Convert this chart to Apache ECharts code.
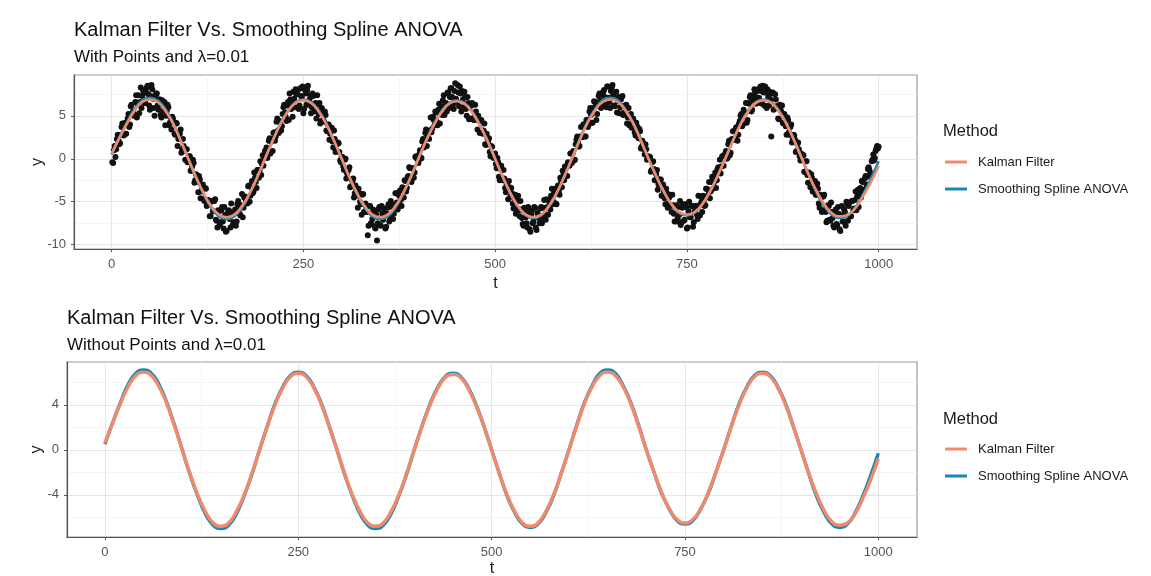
<!DOCTYPE html>
<html>
<head>
<meta charset="utf-8">
<script src="https://cdn.jsdelivr.net/npm/echarts@6/dist/echarts.min.js"></script>
<style>html,body{margin:0;background:#fff}#chart{width:1151px;height:576px}</style>
</head>
<body>
<div id="chart"></div>
<script>
// fitted curves, read every 10 steps of t (t = 0, 10, ..., 1000)
var curveStep = 10;
var kalmanY = [
  0.6, 2.4, 4.1, 5.6, 6.6, 6.9, 6.6, 5.6, 4.1, 2.1,
  0.0, -2.1, -4.0, -5.5, -6.5, -6.8, -6.5, -5.5, -4.0, -2.1,
  0.0, 2.1, 4.0, 5.5, 6.5, 6.8, 6.5, 5.5, 4.0, 2.1,
  0.0, -2.1, -4.0, -5.5, -6.5, -6.8, -6.5, -5.5, -4.0, -2.1,
  0.0, 2.1, 3.9, 5.4, 6.4, 6.7, 6.4, 5.4, 3.9, 2.1,
  0.0, -2.1, -4.0, -5.5, -6.5, -6.8, -6.5, -5.5, -4.0, -2.1,
  0.0, 2.1, 4.1, 5.6, 6.6, 6.9, 6.6, 5.6, 4.1, 2.1,
  0.0, -2.0, -3.8, -5.3, -6.2, -6.5, -6.2, -5.3, -3.8, -2.0,
  0.0, 2.1, 4.0, 5.5, 6.5, 6.8, 6.5, 5.5, 4.0, 2.1,
  0.0, -2.1, -3.9, -5.4, -6.4, -6.7, -6.5, -5.7, -4.3, -2.7,
  -0.8
];
var splineY = [
  0.5, 2.4, 4.2, 5.8, 6.8, 7.1, 6.8, 5.8, 4.2, 2.2,
  0.0, -2.2, -4.1, -5.7, -6.7, -7.0, -6.7, -5.7, -4.1, -2.2,
  0.0, 2.1, 4.1, 5.6, 6.6, 6.9, 6.6, 5.6, 4.1, 2.1,
  0.0, -2.2, -4.1, -5.7, -6.7, -7.0, -6.7, -5.7, -4.1, -2.2,
  0.0, 2.1, 4.0, 5.5, 6.5, 6.8, 6.5, 5.5, 4.0, 2.1,
  0.0, -2.1, -4.1, -5.6, -6.6, -6.9, -6.6, -5.6, -4.1, -2.1,
  0.0, 2.2, 4.2, 5.7, 6.8, 7.1, 6.8, 5.7, 4.2, 2.2,
  0.0, -2.0, -3.9, -5.3, -6.3, -6.6, -6.3, -5.3, -3.9, -2.0,
  0.0, 2.1, 4.1, 5.6, 6.6, 6.9, 6.6, 5.6, 4.1, 2.1,
  0.0, -2.1, -4.1, -5.6, -6.6, -6.9, -6.6, -5.6, -4.1, -2.3,
  -0.3
];

// observed points at odd t (1, 3, ..., 999)
var pointYOdd = [
  -0.4,1.0,0.2,2.3,2.1,1.8,3.7,2.8,4.1,2.9, 4.7,3.7,6.1,5.3,5.0,6.6,4.8,7.4,6.6,5.9,
  8.0,6.5,7.7,8.5,6.2,7.3,8.1,5.9,7.2,7.6, 5.7,6.9,4.8,6.2,6.6,5.0,6.3,3.9,4.8,4.9,
  4.2,2.8,4.1,2.3,2.9,0.7,2.3,0.9,1.1,-0.4,
  0.3,-1.4,-0.9,-0.5,-2.5,-1.9,-3.9,-2.4,-3.8,-3.0, -4.9,-3.5,-5.3,-4.9,-6.7,-4.9,-6.1,-4.7,-7.2,-6.0,
  -7.7,-6.0,-7.3,-5.6,-8.5,-6.7,-6.0,-8.0,-6.3,-7.4, -5.9,-7.3,-4.9,-6.4,-5.4,-6.8,-4.5,-4.8,-5.2,-3.1,
  -4.3,-2.6,-3.8,-2.2,-3.4,-1.3,-1.3,-1.9,0.4,0.1,
  1.0,0.1,2.1,0.6,2.3,3.0,2.1,4.3,3.3,4.4, 3.3,5.2,6.3,4.9,6.2,4.5,6.9,6.4,7.8,6.0,
  7.5,8.0,6.2,7.3,8.4,5.8,7.6,8.0,6.3,7.4, 6.0,7.3,6.4,4.7,6.3,6.5,4.4,5.3,4.3,5.1,
  3.2,4.0,2.9,3.6,1.3,2.3,1.0,1.9,0.8,-0.4,
  0.2,-1.3,0.0,-1.7,-1.3,-3.3,-2.4,-2.3,-4.0,-3.7, -5.7,-4.0,-5.3,-4.2,-6.2,-5.2,-6.2,-7.8,-5.5,-7.6,
  -5.9,-7.9,-6.5,-7.5,-5.6,-7.8,-6.4,-5.8,-8.1,-6.4, -5.3,-6.8,-5.3,-7.0,-5.4,-4.0,-5.9,-4.3,-4.8,-3.3,
  -4.5,-2.6,-3.4,-2.0,-1.1,-2.7,-1.1,-1.6,0.3,0.1,
  0.5,0.0,2.0,1.3,3.0,1.5,3.2,3.3,3.1,4.9, 3.9,5.4,3.9,6.4,5.8,5.1,7.4,6.2,5.5,7.6,
  7.2,8.2,6.3,7.9,7.0,8.6,6.1,7.6,7.9,6.0, 7.2,5.0,6.5,6.0,4.7,6.3,4.8,5.5,3.4,4.5,
  4.4,3.0,3.3,1.7,2.9,2.0,0.8,1.5,0.3,0.5,
  -0.6,0.1,-2.1,-1.2,-2.4,-1.3,-3.4,-2.9,-4.7,-3.3, -3.4,-5.2,-4.6,-6.4,-4.9,-6.0,-4.9,-6.9,-7.8,-6.1,
  -7.5,-5.6,-8.2,-6.5,-7.5,-5.6,-8.0,-6.3,-6.9,-5.8, -7.5,-5.7,-6.6,-4.7,-6.5,-5.1,-4.3,-5.3,-3.9,-5.2,
  -3.4,-3.8,-2.2,-3.3,-1.9,-0.9,-2.0,-0.4,-0.8,0.6,
  0.6,-0.2,1.7,2.6,1.4,2.6,2.5,4.0,2.6,4.5, 3.7,5.5,5.1,4.2,6.7,6.1,5.2,7.3,6.8,6.1,
  7.8,7.2,6.0,8.4,6.6,7.9,8.6,6.2,7.1,5.4, 7.2,6.0,7.2,5.1,6.2,6.3,4.8,3.9,5.2,4.4,
  4.3,2.7,3.8,2.4,3.2,1.4,1.8,0.5,1.1,0.0,
  0.1,-1.5,-0.4,-1.2,-2.5,-1.3,-3.0,-2.4,-4.3,-3.0, -4.6,-3.5,-5.7,-4.5,-5.5,-4.2,-6.4,-5.5,-7.3,-5.6,
  -4.9,-7.4,-5.3,-7.1,-5.6,-8.0,-5.0,-6.8,-5.5,-7.4, -5.5,-6.5,-4.3,-6.6,-5.0,-4.3,-5.5,-3.5,-4.3,-2.7,
  -3.8,-2.1,-2.8,-1.6,-2.5,-1.0,-0.1,-0.9,0.3,0.4,
  0.9,0.1,2.1,0.7,2.3,3.2,2.4,3.7,2.8,4.4, 5.2,4.0,5.3,6.5,4.5,6.4,7.4,5.7,7.1,7.7,
  7.1,8.1,6.5,7.9,8.5,6.2,7.7,8.1,6.2,6.9, 7.6,5.7,7.5,6.1,4.7,6.3,5.5,4.2,5.2,3.8,
  4.8,3.1,3.7,1.9,2.8,2.2,0.9,1.9,0.3,0.6,
  0.4,-1.5,-0.3,-1.9,-1.6,-3.3,-2.2,-3.8,-2.6,-4.2, -3.5,-5.7,-4.5,-6.0,-4.2,-6.2,-7.2,-5.5,-7.2,-6.2,
  -7.8,-6.2,-7.6,-5.6,-8.2,-6.6,-7.3,-5.9,-7.8,-5.3, -5.5,-6.7,-4.9,-6.0,-4.8,-6.0,-3.6,-4.0,-4.5,-2.7,
  -3.6,-2.0,-2.1,-1.0,-1.8,-0.3,0.5,0.1,1.2,1.2
];
// observed points at even t (2, 4, ..., 1000)
var pointYEven = [
  -0.5,1.5,1.1,2.8,1.7,2.8,4.1,2.7,4.2,4.0, 5.2,4.0,6.3,5.5,5.1,7.4,6.4,5.3,8.3,7.3,
  7.8,6.5,8.3,7.5,5.7,8.6,7.0,5.0,7.6,6.2, 6.9,5.1,6.8,5.6,3.9,5.6,6.0,4.2,3.4,4.7,
  2.9,4.2,1.5,2.9,3.4,1.1,1.5,-0.1,1.1,-0.3,
  0.3,-1.4,-0.1,-2.8,-1.8,-2.7,-2.0,-4.6,-3.3,-4.7, -3.4,-5.5,-4.8,-6.7,-5.0,-6.1,-4.9,-7.1,-8.0,-6.1,
  -7.4,-5.6,-8.1,-6.5,-8.4,-6.1,-7.0,-5.2,-7.7,-6.3, -7.8,-5.3,-5.8,-6.6,-4.1,-5.7,-4.4,-4.8,-3.2,-5.0,
  -3.3,-4.0,-1.6,-2.7,-1.3,-2.2,-0.3,-0.6,-0.8,0.9,
  1.3,0.5,2.4,2.0,0.9,3.1,2.6,4.7,3.0,4.3, 3.8,6.0,5.4,4.4,6.6,7.6,5.8,4.9,7.0,8.1,
  7.5,5.8,8.2,7.2,5.3,8.0,6.3,8.5,6.9,5.3, 7.6,5.5,6.5,7.4,5.2,4.1,5.9,4.5,5.5,3.3,
  4.0,2.2,3.6,2.0,3.3,0.8,1.7,1.8,-0.2,0.2,
  -0.9,-0.1,-2.3,-1.3,-1.0,-3.2,-2.6,-4.5,-3.1,-4.3, -3.5,-5.0,-6.5,-4.1,-6.2,-5.6,-8.9,-5.5,-7.5,-7.0,
  -6.1,-8.1,-9.5,-5.9,-7.7,-5.5,-7.1,-6.3,-7.9,-5.7, -7.3,-4.9,-5.6,-6.4,-4.0,-5.1,-5.4,-3.7,-5.5,-3.4,
  -2.5,-3.8,-2.1,-1.0,-2.4,-1.1,-2.2,0.2,0.0,-0.5,
  1.0,0.1,2.3,1.4,3.4,2.6,2.3,4.8,3.5,4.5, 5.5,4.3,5.7,4.1,6.1,6.8,5.1,6.5,7.7,5.9,
  8.2,7.2,5.8,8.8,6.6,7.7,8.4,5.5,6.9,7.8, 5.8,7.2,4.6,6.3,6.5,4.5,6.3,4.5,5.0,3.0,
  4.5,2.9,4.1,1.6,2.4,2.4,0.3,1.4,0.1,0.6,
  -1.1,-0.4,-2.5,-0.8,-2.5,-2.3,-3.9,-2.7,-2.6,-4.4, -4.0,-5.8,-4.2,-5.8,-4.3,-6.7,-5.9,-7.6,-5.7,-6.8,
  -8.0,-6.2,-8.5,-6.0,-7.3,-5.7,-8.3,-6.5,-7.5,-5.6, -6.9,-4.8,-7.1,-5.6,-4.8,-5.9,-3.5,-5.0,-3.5,-5.3,
  -3.1,-4.2,-2.6,-1.4,-2.5,-0.9,-2.0,-0.7,0.6,-0.5,
  0.9,-0.1,2.2,1.9,1.5,3.7,2.6,4.0,2.6,4.5, 4.0,5.9,4.2,5.9,6.6,4.5,6.3,7.6,5.9,7.5,
  8.0,6.3,8.4,7.1,5.9,8.3,7.4,6.1,7.8,6.7, 5.3,6.9,7.3,5.4,6.1,4.1,5.9,5.0,3.6,4.7,
  3.1,4.2,2.6,3.5,1.2,2.1,1.1,1.7,-0.1,0.3,
  0.2,-1.3,-0.3,-2.5,-1.8,-3.6,-2.4,-2.4,-4.3,-3.9, -5.3,-4.0,-5.2,-4.2,-6.2,-5.4,-7.3,-5.4,-6.9,-6.5,
  -7.7,-5.7,-7.2,-5.3,-8.1,-6.1,-6.8,-5.5,-7.9,-6.1, -5.5,-7.0,-5.4,-4.4,-6.2,-4.9,-5.4,-3.5,-3.7,-4.6,
  -2.7,-3.5,-2.2,-3.4,-1.2,-1.4,-1.7,0.3,-0.8,0.6,
  0.0,1.7,0.4,2.2,3.2,2.2,3.6,2.1,4.1,5.0, 3.8,5.7,5.3,4.2,6.5,7.2,5.5,6.8,8.1,6.4,
  7.9,7.1,8.4,6.4,7.7,8.4,5.9,7.2,7.8,2.6, 7.7,5.8,6.9,6.1,4.6,6.0,6.2,4.1,4.9,2.8,
  4.5,2.8,4.0,2.3,2.7,0.8,1.7,1.1,-0.2,0.5,
  0.4,-1.5,-0.3,-2.8,-1.7,-1.8,-3.8,-3.0,-4.2,-2.9, -5.2,-4.2,-6.2,-4.4,-6.0,-7.4,-5.4,-7.1,-5.1,-6.9,
  -8.0,-5.9,-7.7,-6.4,-8.4,-5.5,-7.3,-6.2,-5.0,-7.2, -5.1,-6.7,-4.9,-5.8,-3.8,-4.4,-5.6,-3.4,-2.6,-3.8,
  -2.3,-3.0,-1.2,-1.3,-1.7,-0.1,-0.2,0.9,1.5,1.4
];

var xTicks = [0, 250, 500, 750, 1000];
var xMinorTicks = [125, 375, 625, 875];
var yTicksTop = [-10, -5, 0, 5];
var yMinorTop = [-7.5, -2.5, 2.5, 7.5];
var yTicksBottom = [-4, 0, 4];
var yMinorBottom = [-6, -2, 2, 6];

var methods = ['Kalman Filter', 'Smoothing Spline ANOVA'];
var colors = {'Kalman Filter': '#F08A6C', 'Smoothing Spline ANOVA': '#1689B2'};
var FONT = '"Liberation Sans", Arial, sans-serif';

var kalmanData = kalmanY.map(function (v, i) { return [i * curveStep, v]; });
var splineData = splineY.map(function (v, i) { return [i * curveStep, v]; });
var pointData = [];
pointYOdd.forEach(function (v, i) { pointData.push([1 + 2 * i, v]); });
pointYEven.forEach(function (v, i) { pointData.push([2 + 2 * i, v]); });

function plain(v) { return String(v); }

function majorX(g, gap) {
  return {
    type: 'value', gridIndex: g, min: -49, max: 1050,
    name: 't', nameLocation: 'middle', nameGap: gap, nameMoveOverlap: false,
    nameTextStyle: {fontSize: 16, color: '#1a1a1a', fontFamily: FONT},
    axisLine: {show: true, onZero: false, lineStyle: {color: '#555', width: 1.2}},
    axisTick: {show: true, length: 3, customValues: xTicks, lineStyle: {color: '#555'}},
    axisLabel: {customValues: xTicks, formatter: plain, color: '#555', fontSize: 13, margin: 9, fontFamily: FONT},
    splitLine: {show: true, lineStyle: {color: '#E6E6E6', width: 1.1}}
  };
}
function minorX(g) {
  return {
    type: 'value', gridIndex: g, min: -49, max: 1050,
    axisLine: {show: false, onZero: false},
    axisTick: {show: false, customValues: xMinorTicks},
    axisLabel: {show: false},
    splitLine: {show: true, lineStyle: {color: '#F2F2F2', width: 0.8}}
  };
}
function majorY(g, min, max, ticks, gap) {
  return {
    type: 'value', gridIndex: g, min: min, max: max,
    name: 'y', nameLocation: 'middle', nameGap: gap, nameRotate: 90, nameMoveOverlap: false,
    nameTextStyle: {fontSize: 16, color: '#1a1a1a', fontFamily: FONT},
    axisLine: {show: true, onZero: false, lineStyle: {color: '#555', width: 1.2}},
    axisTick: {show: true, length: 3, customValues: ticks, lineStyle: {color: '#555'}},
    axisLabel: {customValues: ticks, formatter: plain, color: '#555', fontSize: 13, margin: 8, fontFamily: FONT},
    splitLine: {show: true, lineStyle: {color: '#E6E6E6', width: 1.1}}
  };
}
function minorY(g, min, max, ticks) {
  return {
    type: 'value', gridIndex: g, min: min, max: max,
    axisLine: {show: false, onZero: false},
    axisTick: {show: false, customValues: ticks},
    axisLabel: {show: false},
    splitLine: {show: true, lineStyle: {color: '#F2F2F2', width: 0.8}}
  };
}

function titleText(text, left, top, size, color) {
  return {text: text, left: left, top: top, padding: 0,
    textStyle: {fontSize: size, fontWeight: 'normal', color: color, fontFamily: FONT}};
}
function legendBox(top) {
  return {
    orient: 'vertical', left: 945, top: top, padding: 0,
    itemWidth: 22, itemHeight: 3, itemGap: 13, icon: 'rect',
    selectedMode: false, data: methods,
    textStyle: {fontSize: 13, color: '#1a1a1a', fontFamily: FONT, lineHeight: 14, padding: [0, 0, 0, 6]}
  };
}
function lineSeries(name, data, xi, width) {
  return {
    name: name, type: 'line', xAxisIndex: xi, yAxisIndex: xi,
    data: data, smooth: true, showSymbol: false, color: colors[name],
    lineStyle: {width: width, color: colors[name]}, z: 3
  };
}

var option = {
  animation: false,
  backgroundColor: '#fff',
  title: [
    titleText('Kalman Filter Vs. Smoothing Spline ANOVA', 74, 20, 20, '#111'),
    titleText('With Points and \u03bb=0.01', 74, 49, 17, '#111'),
    titleText('Kalman Filter Vs. Smoothing Spline ANOVA', 67, 308, 20, '#111'),
    titleText('Without Points and \u03bb=0.01', 67, 337, 17, '#111'),
    titleText('Method', 943, 123, 16.5, '#1a1a1a'),
    titleText('Method', 943, 411, 16.5, '#1a1a1a')
  ],
  legend: [legendBox(155), legendBox(442)],
  grid: [
    {left: 74, top: 75, width: 843, height: 174, outerBoundsMode: 'none', show: true,
      borderColor: '#9a9a9a', borderWidth: 1.2, backgroundColor: '#fff'},
    {left: 67, top: 362, width: 850, height: 175, outerBoundsMode: 'none', show: true,
      borderColor: '#9a9a9a', borderWidth: 1.2, backgroundColor: '#fff'}
  ],
  xAxis: [majorX(0, 27), minorX(0), majorX(1, 24), minorX(1)],
  yAxis: [
    majorY(0, -10.5, 9.75, yTicksTop, 28),
    minorY(0, -10.5, 9.75, yMinorTop),
    majorY(1, -7.75, 7.8, yTicksBottom, 22),
    minorY(1, -7.75, 7.8, yMinorBottom)
  ],
  series: [
    {type: 'scatter', xAxisIndex: 0, yAxisIndex: 0, data: pointData, symbolSize: 6,
      itemStyle: {color: '#111', opacity: 1}, silent: true, z: 2},
    lineSeries('Smoothing Spline ANOVA', splineData, 0, 2.6),
    lineSeries('Kalman Filter', kalmanData, 0, 2.6),
    lineSeries('Smoothing Spline ANOVA', splineData, 2, 3.4),
    lineSeries('Kalman Filter', kalmanData, 2, 3.4)
  ]
};

var chart = echarts.init(document.getElementById('chart'));
chart.setOption(option);
</script>
</body>
</html>
